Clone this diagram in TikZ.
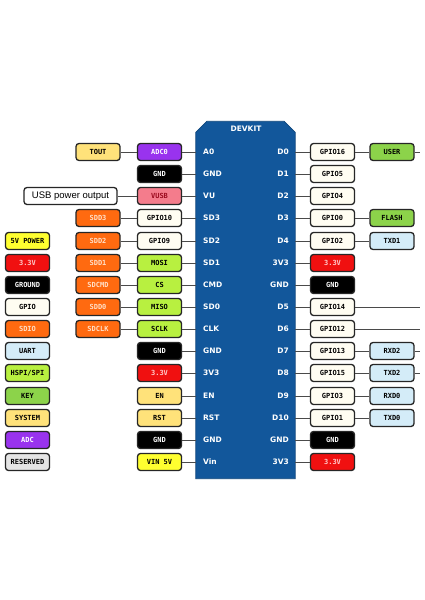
\documentclass[tikz,border=0pt]{standalone}
\usepackage{fontspec}
\setmainfont{DejaVu Sans}
\newfontfamily\boxfont{DejaVu Sans Mono}
\newfontfamily\usbfont{Liberation Sans}

\definecolor{boardblue}{HTML}{12579B}
\definecolor{sysfill}{HTML}{FFE27A}
\definecolor{adcfill}{HTML}{9933EE}
\definecolor{vusbfill}{HTML}{F47C8C}
\definecolor{vusbtext}{HTML}{9B0A1E}
\definecolor{sdfill}{HTML}{FF6A10}
\definecolor{sdtext}{HTML}{FFE0C8}
\definecolor{gpiofill}{HTML}{FFFDF2}
\definecolor{spifill}{HTML}{B8F040}
\definecolor{keyfill}{HTML}{8CD34A}
\definecolor{uartfill}{HTML}{D4ECF8}
\definecolor{redfill}{HTML}{F01010}
\definecolor{redtext}{HTML}{FFC8C8}
\definecolor{vinfill}{HTML}{FFFF30}
\definecolor{resfill}{HTML}{E4E4E4}
\definecolor{wiregray}{HTML}{4A4A4A}

\tikzset{
x=1pt, y=-1pt, % one unit per pixel, y runs down the sheet
anybox/.style={draw=black!85, line width=1.3pt, rounded corners=3pt, minimum width=44pt, minimum height=17pt, inner sep=0pt, font=\boxfont\bfseries\fontsize{7}{8}\selectfont},
gpiobox/.style={anybox, fill=gpiofill},
gndbox/.style={anybox, fill=black, text=white},
redbox/.style={anybox, fill=redfill, text=redtext},
sdbox/.style={anybox, fill=sdfill, text=sdtext},
spibox/.style={anybox, fill=spifill},
keybox/.style={anybox, fill=keyfill},
uartbox/.style={anybox, fill=uartfill},
sysbox/.style={anybox, fill=sysfill},
adcbox/.style={anybox, fill=adcfill, text=white},
vinbox/.style={anybox, fill=vinfill},
resbox/.style={anybox, fill=resfill},
vusbbox/.style={anybox, fill=vusbfill, text=vusbtext},
usbbox/.style={anybox, fill=white, minimum width=93pt, font=\usbfont\fontsize{9.5}{11}\selectfont},
board/.style={minimum width=99pt, minimum height=357pt, inner sep=0pt},
pinname/.style={text=white, font=\bfseries\fontsize{7.5}{9}\selectfont, inner sep=0pt},
wire/.style={draw=wiregray, line width=1pt},
}

\begin{document}
\begin{tikzpicture}
\useasboundingbox[fill=white] (0,0) rectangle (424,600);

% the module, top corners cut off
\node[board] (board) at (245.5,300) {};
\fill[boardblue, draw=boardblue!80!black, line width=0.8pt]
  (board.south west) -- ([yshift=-11pt]board.north west) -- ([xshift=11pt]board.north west)
  -- ([xshift=-11pt]board.north east) -- ([yshift=-11pt]board.north east) -- (board.south east) -- cycle;
\node[pinname] (title) at (246,129) {DEVKIT};

% pin names, left side
\node[pinname, anchor=west] (pA0) at (203,152) {A0};
\node[pinname, anchor=west] (pG1) at (203,174) {GND};
\node[pinname, anchor=west] (pVU) at (203,196) {VU};
\node[pinname, anchor=west] (pSD3) at (203,218) {SD3};
\node[pinname, anchor=west] (pSD2) at (203,241) {SD2};
\node[pinname, anchor=west] (pSD1) at (203,263) {SD1};
\node[pinname, anchor=west] (pCMD) at (203,285) {CMD};
\node[pinname, anchor=west] (pSD0) at (203,307) {SD0};
\node[pinname, anchor=west] (pCLK) at (203,329) {CLK};
\node[pinname, anchor=west] (pG2) at (203,351) {GND};
\node[pinname, anchor=west] (p3V3) at (203,373) {3V3};
\node[pinname, anchor=west] (pEN) at (203,396) {EN};
\node[pinname, anchor=west] (pRST) at (203,418) {RST};
\node[pinname, anchor=west] (pG3) at (203,440) {GND};
\node[pinname, anchor=west] (pVin) at (203,462) {Vin};

% pin names, right side
\node[pinname, anchor=east] (pD0) at (289,152) {D0};
\node[pinname, anchor=east] (pD1) at (289,174) {D1};
\node[pinname, anchor=east] (pD2) at (289,196) {D2};
\node[pinname, anchor=east] (pD3) at (289,218) {D3};
\node[pinname, anchor=east] (pD4) at (289,241) {D4};
\node[pinname, anchor=east] (pR3V3) at (289,263) {3V3};
\node[pinname, anchor=east] (pRG1) at (289,285) {GND};
\node[pinname, anchor=east] (pD5) at (289,307) {D5};
\node[pinname, anchor=east] (pD6) at (289,329) {D6};
\node[pinname, anchor=east] (pD7) at (289,351) {D7};
\node[pinname, anchor=east] (pD8) at (289,373) {D8};
\node[pinname, anchor=east] (pD9) at (289,396) {D9};
\node[pinname, anchor=east] (pD10) at (289,418) {D10};
\node[pinname, anchor=east] (pRG2) at (289,440) {GND};
\node[pinname, anchor=east] (pR3V3b) at (289,462) {3V3};

% left, next to the module
\node[adcbox] (adc) at (159.5,152) {ADC0};
\node[gndbox] (gndA) at (159.5,174) {GND};
\node[vusbbox] (vusb) at (159.5,196) {VUSB};
\node[gpiobox] (g10) at (159.5,218) {GPIO10};
\node[gpiobox] (g9) at (159.5,241) {GPIO9};
\node[spibox] (mosi) at (159.5,263) {MOSI};
\node[spibox] (cs) at (159.5,285) {CS};
\node[spibox] (miso) at (159.5,307) {MISO};
\node[spibox] (sclk) at (159.5,329) {SCLK};
\node[gndbox] (gndB) at (159.5,351) {GND};
\node[redbox] (pwrA) at (159.5,373) {3.3V};
\node[sysbox] (en) at (159.5,396) {EN};
\node[sysbox] (rst) at (159.5,418) {RST};
\node[gndbox] (gndC) at (159.5,440) {GND};
\node[vinbox] (vin) at (159.5,462) {VIN 5V};

% left, second column
\node[sysbox] (tout) at (98,152) {TOUT};
\node[usbbox] (usb) at (70.5,196) {USB power output};
\node[sdbox] (sdd3) at (98,218) {SDD3};
\node[sdbox] (sdd2) at (98,241) {SDD2};
\node[sdbox] (sdd1) at (98,263) {SDD1};
\node[sdbox] (sdcmd) at (98,285) {SDCMD};
\node[sdbox] (sdd0) at (98,307) {SDD0};
\node[sdbox] (sdclk) at (98,329) {SDCLK};

% legend
\node[vinbox] (lgPower) at (27.5,241) {5V POWER};
\node[redbox] (lgThree) at (27.5,263) {3.3V};
\node[gndbox] (lgGround) at (27.5,285) {GROUND};
\node[gpiobox] (lgGpio) at (27.5,307) {GPIO};
\node[sdbox] (lgSdio) at (27.5,329) {SDIO};
\node[uartbox] (lgUart) at (27.5,351) {UART};
\node[spibox] (lgSpi) at (27.5,373) {HSPI/SPI};
\node[keybox] (lgKey) at (27.5,396) {KEY};
\node[sysbox] (lgSystem) at (27.5,418) {SYSTEM};
\node[adcbox] (lgAdc) at (27.5,440) {ADC};
\node[resbox] (lgReserved) at (27.5,462) {RESERVED};

% right, next to the module
\node[gpiobox] (g16) at (332.5,152) {GPIO16};
\node[gpiobox] (g5) at (332.5,174) {GPIO5};
\node[gpiobox] (g4) at (332.5,196) {GPIO4};
\node[gpiobox] (g0) at (332.5,218) {GPIO0};
\node[gpiobox] (g2) at (332.5,241) {GPIO2};
\node[redbox] (pwrB) at (332.5,263) {3.3V};
\node[gndbox] (gndD) at (332.5,285) {GND};
\node[gpiobox] (g14) at (332.5,307) {GPIO14};
\node[gpiobox] (g12) at (332.5,329) {GPIO12};
\node[gpiobox] (g13) at (332.5,351) {GPIO13};
\node[gpiobox] (g15) at (332.5,373) {GPIO15};
\node[gpiobox] (g3) at (332.5,396) {GPIO3};
\node[gpiobox] (g1) at (332.5,418) {GPIO1};
\node[gndbox] (gndE) at (332.5,440) {GND};
\node[redbox] (pwrC) at (332.5,462) {3.3V};

% right, outer column
\node[keybox] (user) at (392,152) {USER};
\node[keybox] (flash) at (392,218) {FLASH};
\node[uartbox] (txd1) at (392,241) {TXD1};
\node[uartbox] (rxd2) at (392,351) {RXD2};
\node[uartbox] (txd2) at (392,373) {TXD2};
\node[uartbox] (rxd0) at (392,396) {RXD0};
\node[uartbox] (txd0) at (392,418) {TXD0};

\coordinate (edge) at (420,0);

% wires into the module
\foreach \n in {adc,gndA,vusb,g10,g9,mosi,cs,miso,sclk,gndB,pwrA,en,rst,gndC,vin}
  \draw[wire] (\n.east) -- (\n.east -| board.west);
\foreach \n in {g16,g5,g4,g0,g2,pwrB,gndD,g14,g12,g13,g15,g3,g1,gndE,pwrC}
  \draw[wire] (\n.west) -- (\n.west -| board.east);

% wires between boxes
\draw[wire] (tout) -- (adc);
\draw[wire] (usb) -- (vusb);
\draw[wire] (sdd3) -- (g10);
\draw[wire] (sdd2) -- (g9);
\draw[wire] (sdd1) -- (mosi);
\draw[wire] (sdcmd) -- (cs);
\draw[wire] (sdd0) -- (miso);
\draw[wire] (sdclk) -- (sclk);
\draw[wire] (g16) -- (user);
\draw[wire] (g0) -- (flash);
\draw[wire] (g2) -- (txd1);
\draw[wire] (g13) -- (rxd2);
\draw[wire] (g15) -- (txd2);
\draw[wire] (g3) -- (rxd0);
\draw[wire] (g1) -- (txd0);

% ends running off the sheet
\foreach \n in {user,g14,g12,rxd2,txd2}
  \draw[wire] (\n.east) -- (\n.east -| edge);
\end{tikzpicture}
\end{document}
